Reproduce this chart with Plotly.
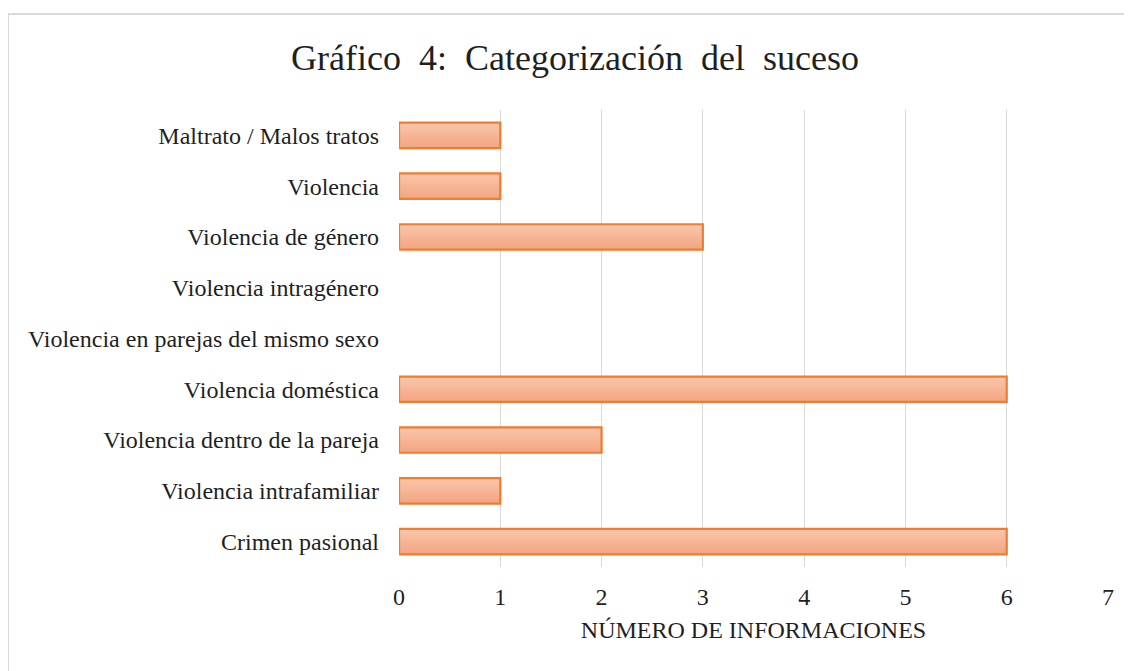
import plotly.graph_objects as go

categories = [
    "Crimen pasional",
    "Violencia intrafamiliar",
    "Violencia dentro de la pareja",
    "Violencia doméstica",
    "Violencia en parejas del mismo sexo",
    "Violencia intragénero",
    "Violencia de género",
    "Violencia",
    "Maltrato / Malos tratos",
]
values = [6, 1, 2, 6, 0, 0, 3, 1, 1]
x_ticks = [0, 1, 2, 3, 4, 5, 6, 7]

# page has an 8px body margin, so figure coordinates are page coordinates - 8
OFF = 8
W, H = 1132 - OFF, 671 - OFF
L, R, T, B = 399 - OFF, 1108 - OFF, 110 - OFF, 567 - OFF

BAR_W = 0.5
N_SLICES = 12
top_rgb = (249, 197, 170)
bot_rgb = (243, 166, 130)

fig = go.Figure()
# vertical gradient fill: overlapping layers, each reaching the top edge of the bar
for i in range(N_SLICES):
    t = i / (N_SLICES - 1)
    c = tuple(round(b + (a - b) * t) for a, b in zip(top_rgb, bot_rgb))
    sw = BAR_W / N_SLICES
    fig.add_trace(go.Bar(
        x=values, y=categories, orientation="h",
        width=BAR_W - i * sw,
        offset=-BAR_W / 2 + i * sw,
        marker=dict(color="rgb(%d,%d,%d)" % c, line=dict(width=0)),
        hoverinfo="skip",
    ))
# border
fig.add_trace(go.Bar(
    x=values, y=categories, orientation="h", width=BAR_W, offset=-BAR_W / 2,
    marker=dict(color="rgba(0,0,0,0)",
                line=dict(color="#ED7D31", width=[2.2 if v > 0 else 0 for v in values])),
    hoverinfo="x+y",
))

font_family = "Liberation Serif, Times New Roman, serif"
txt = "#1f1f1f"

fig.update_layout(
    width=W, height=H,
    margin=dict(l=L, r=W - R, t=T, b=H - B, autoexpand=False),
    paper_bgcolor="white", plot_bgcolor="white",
    showlegend=False, barmode="overlay",
    font=dict(family=font_family, color=txt),
    title=dict(
        text="Gráfico  4:  Categorización  del  suceso",
        x=(575 - OFF) / W, xanchor="center",
        y=1 - (57 - OFF) / H, yanchor="middle", yref="container",
        font=dict(family=font_family, size=36, color=txt),
    ),
    xaxis=dict(
        range=[0, 7], tickvals=x_ticks, showgrid=True, gridcolor="#D9D9D9",
        gridwidth=1, zeroline=False, showline=False, ticks="",
        tickfont=dict(size=24, color=txt), ticklabelstandoff=13,
        title=dict(text="NÚMERO DE INFORMACIONES", font=dict(size=24, color=txt), standoff=12),
    ),
    yaxis=dict(
        categoryorder="array", categoryarray=categories,
        showgrid=False, zeroline=False, showline=False, ticks="",
        tickfont=dict(size=24, color=txt), ticklabelstandoff=19,
        range=[-0.5, 8.5],
    ),
    shapes=[dict(
        type="rect", xref="paper", yref="paper",
        x0=(0 - L) / (R - L), x1=(W + 10 - L) / (R - L),
        y0=(B - (H + 10)) / (B - T), y1=(B - (14 - OFF)) / (B - T),
        line=dict(color="#D9D9D9", width=2), fillcolor="rgba(0,0,0,0)", layer="below",
    )],
)

fig.write_html("out.html")
